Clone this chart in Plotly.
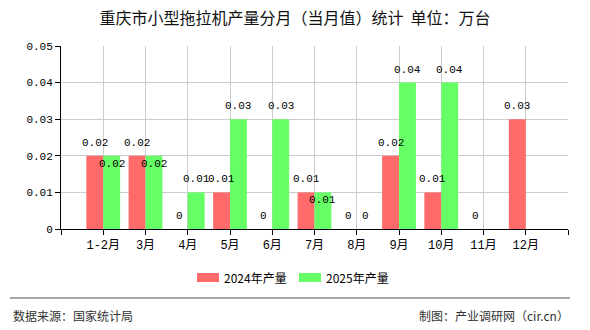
import plotly.graph_objects as go

# ---- data -------------------------------------------------------------
categories = ["1-2月", "3月", "4月", "5月", "6月", "7月", "8月", "9月", "10月", "11月", "12月"]
output_2024 = [0.02, 0.02, 0, 0.01, 0, 0.01, 0, 0.02, 0.01, 0, 0.03]
output_2025 = [0.02, 0.02, 0.01, 0.03, 0.03, 0.01, 0, 0.04, 0.04, None, None]
series_names = ["2024年产量", "2025年产量"]
y_ticks = [0, 0.01, 0.02, 0.03, 0.04, 0.05]
y_tick_text = ["0", "0.01", "0.02", "0.03", "0.04", "0.05"]

title_text = "重庆市小型拖拉机产量分月（当月值）统计  单位：万台"
source_text = "数据来源：国家统计局"
credit_text = "制图：产业调研网（cir.cn）"

# ---- styling ------------------------------------------------------------
RED = "#FF6B6B"
GREEN = "#66FF66"
GRID = "#CCCCCC"
MONO = "Liberation Mono, DejaVu Sans Mono, Noto Sans CJK SC"
CJK = "Noto Sans CJK SC, Noto Sans, sans-serif"

W, H = 590, 330
L, R, T, B = 61, 568, 46, 229          # plot-area box in pixels


def px_x(p):
    return (p - L) / (R - L)


def px_y(p):
    return (B - p) / (B - T)


# vertical offsets for value labels (pixels); labels that would collide
# with the neighbouring 2024 label are tucked just inside the bar top
shift_2024 = [13] * len(categories)
shift_2025 = [-8, -8, 13, 13, 13, -8, 13, 13, 13, 13, 13]

positions = list(range(1, len(categories) + 1))
half = 0.2                              # bar centre offset from category centre

fig = go.Figure()
fig.add_trace(go.Bar(x=positions, y=output_2024, name=series_names[0],
                     marker=dict(color=RED, line=dict(width=0)), showlegend=False))
fig.add_trace(go.Bar(x=positions, y=output_2025, name=series_names[1],
                     marker=dict(color=GREEN, line=dict(width=0)), showlegend=False))

annotations = []


def fmt(v):
    return "0" if v == 0 else f"{v:g}"


for series, sign, shifts in ((output_2024, -1, shift_2024), (output_2025, 1, shift_2025)):
    for pos, v, s in zip(positions, series, shifts):
        if v is None:
            continue
        annotations.append(dict(x=pos + sign * half, y=v, xref="x", yref="y",
                                text=fmt(v), showarrow=False, yshift=s,
                                yanchor="middle", xanchor="center",
                                font=dict(family=MONO, size=11, color="#000")))

# legend drawn as swatches + labels
legend_items = [(series_names[0], RED, 197), (series_names[1], GREEN, 299)]
shapes = []
for name, color, x0 in legend_items:
    shapes.append(dict(type="rect", xref="paper", yref="paper",
                       x0=px_x(x0), x1=px_x(x0 + 22), y0=px_y(282), y1=px_y(273),
                       fillcolor=color, line=dict(width=0)))
    annotations.append(dict(x=px_x(x0 + 25), y=px_y(277.5), xref="paper", yref="paper",
                            text=name, showarrow=False, xanchor="left", yanchor="middle",
                            font=dict(family=CJK, size=12, color="#000")))

# footer rule and captions
shapes.append(dict(type="line", xref="paper", yref="paper",
                   x0=px_x(10), x1=px_x(570), y0=px_y(298), y1=px_y(298),
                   line=dict(color="#888888", width=1.5)))
annotations.append(dict(x=px_x(11), y=px_y(315.5), xref="paper", yref="paper",
                        text=source_text, showarrow=False, xanchor="left", yanchor="middle",
                        font=dict(family=CJK, size=12, color="#333")))
annotations.append(dict(x=px_x(571), y=px_y(315.5), xref="paper", yref="paper",
                        text=credit_text, showarrow=False, xanchor="right", yanchor="middle",
                        font=dict(family=CJK, size=12, color="#333")))

fig.update_layout(
    width=W, height=H,
    margin=dict(l=L, r=W - R, t=T, b=H - B, pad=0),
    paper_bgcolor="white", plot_bgcolor="white",
    barmode="group", bargap=0.2, bargroupgap=0,
    title=dict(text=title_text, x=0.5, xanchor="center", y=1 - 18 / H, yanchor="middle",
               font=dict(family=CJK, size=16, color="#111")),
    xaxis=dict(range=[0, len(categories) + 1],
               tickvals=list(range(0, len(categories) + 2)),
               ticktext=[""] + categories + [""],
               showgrid=True, gridcolor=GRID, gridwidth=1,
               showline=True, linecolor="#000", linewidth=1,
               ticks="outside", ticklen=5, tickcolor="#000",
               tickfont=dict(family=MONO, size=12, color="#000"),
               zeroline=False, fixedrange=True),
    yaxis=dict(range=[0, 0.05], tickvals=y_ticks, ticktext=y_tick_text,
               showgrid=True, gridcolor=GRID, gridwidth=1,
               showline=True, linecolor="#000", linewidth=1,
               ticks="outside", ticklen=5, tickcolor="#000",
               tickfont=dict(family=MONO, size=11, color="#000"),
               zeroline=False, fixedrange=True),
    shapes=shapes,
    annotations=annotations,
)

fig.write_html("out.html")
